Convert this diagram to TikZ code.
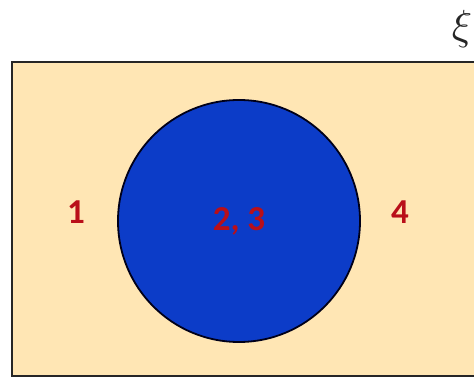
\documentclass[tikz,border=0pt]{standalone}
\usepackage{fontspec}
\setmainfont{Carlito}
\usepackage{tikz}
\usetikzlibrary{positioning}

\definecolor{setfill}{RGB}{255,230,180}
\definecolor{setblue}{RGB}{12,60,200}
\definecolor{setred}{RGB}{185,15,25}

\begin{document}
\begin{tikzpicture}[
x=1pt, y=-1pt,
universe/.style={draw=black!85, line width=2.2pt, fill=setfill},
setA/.style={circle, draw=black!90!blue, line width=1.8pt, fill=setblue, minimum size=242pt, inner sep=0pt},
region/.style={font=\fontsize{35}{35}\selectfont\bfseries, text=setred}
]
\useasboundingbox (0,0) rectangle (474,379);
\fill[white] (0,0) rectangle (474,379);
\draw[universe] (12,62) rectangle (490,376);
\node[setA] (A) at (239,221) {};
\node[region] (r23) at (A.center) {2, 3};
\node[region] (r1) at (76,212) {1};
\node[region] (r4) at (400,212) {4};
\node[scale=4.2, text=black!85, inner sep=0pt] (xi) at (462,29) {$\xi$};
\end{tikzpicture}
\end{document}
